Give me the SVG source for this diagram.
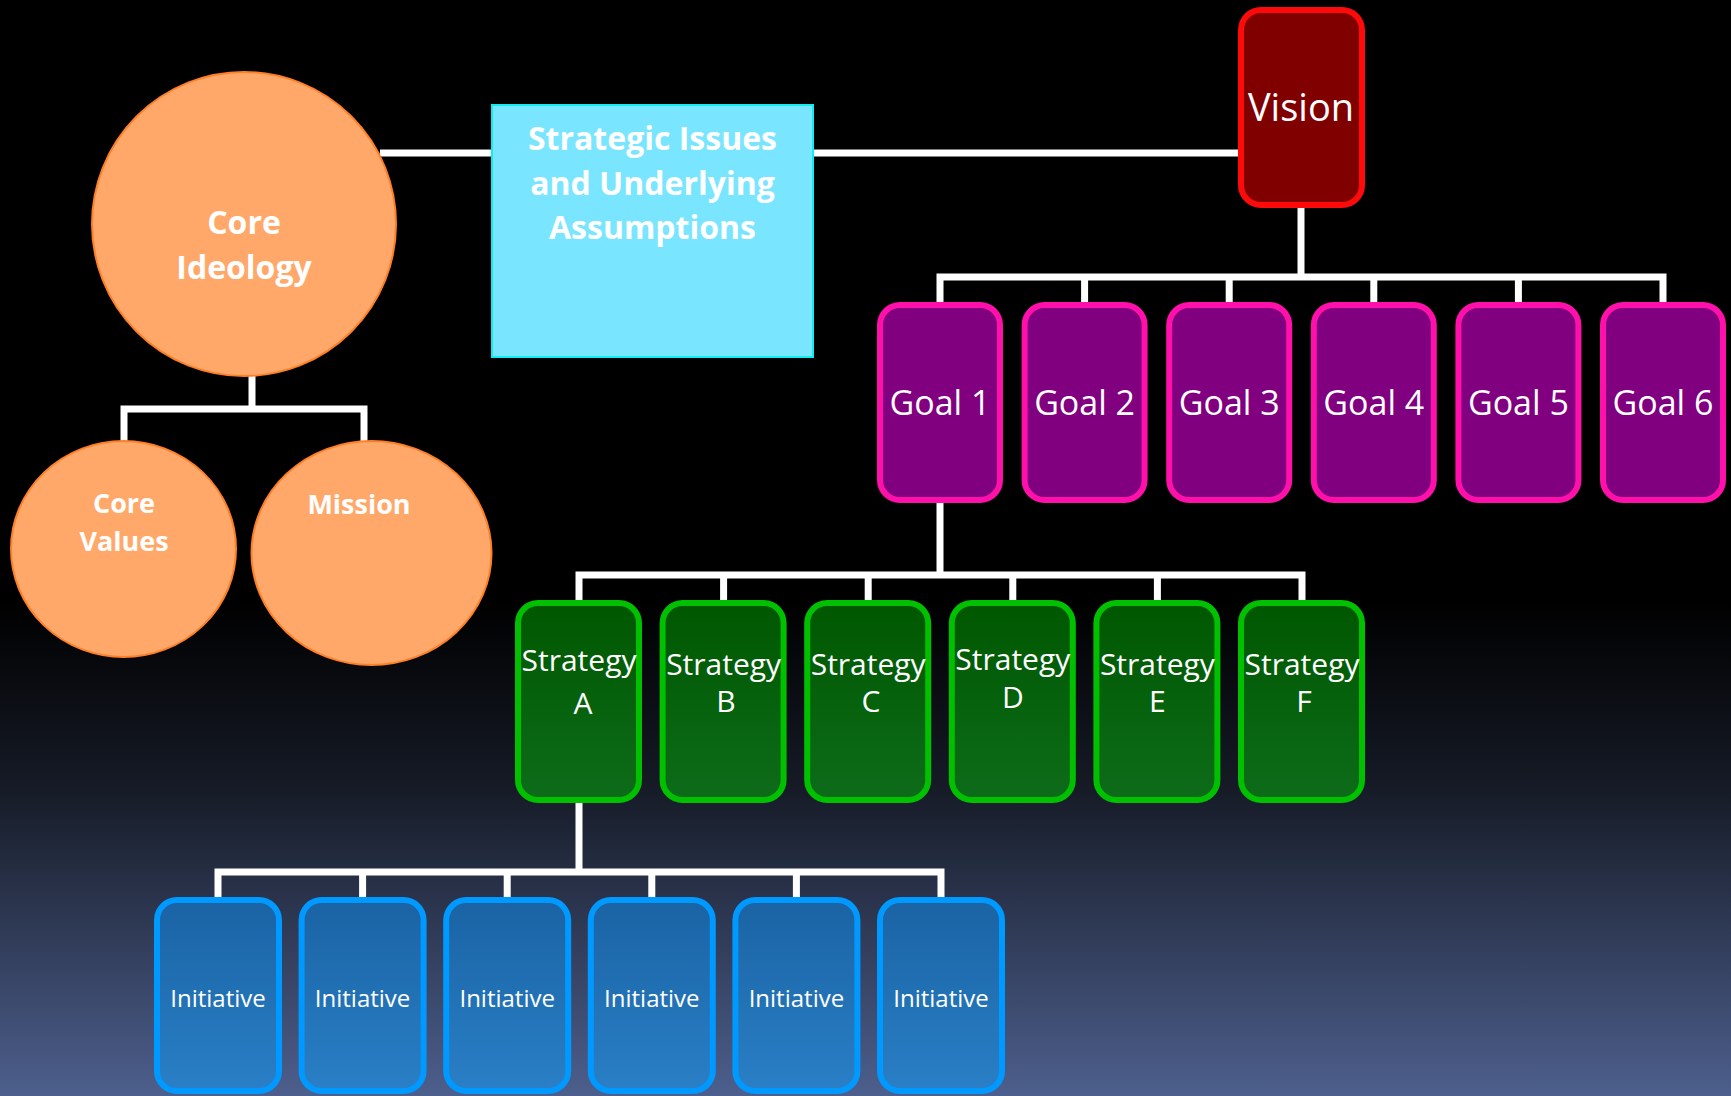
<svg xmlns="http://www.w3.org/2000/svg" width="1731" height="1096" viewBox="0 0 1731 1096">
<defs>
<linearGradient id="bg" x1="0" y1="0" x2="0" y2="1">
<stop offset="0" stop-color="#000"/>
<stop offset="0.55" stop-color="#000"/>
<stop offset="0.72" stop-color="#161b27"/>
<stop offset="1" stop-color="#4d5f8d"/>
</linearGradient>
<linearGradient id="gStrat" x1="0" y1="0" x2="0" y2="1">
<stop offset="0" stop-color="#005700"/>
<stop offset="1" stop-color="#0d6c1a"/>
</linearGradient>
<linearGradient id="gInit" x1="0" y1="0" x2="0" y2="1">
<stop offset="0" stop-color="#1a63a4"/>
<stop offset="1" stop-color="#2a7fc6"/>
</linearGradient>
<style>
.t{font-family:"Open Sans","Liberation Sans",sans-serif;fill:#fff;text-anchor:middle}
.b{font-weight:bold}
.circ{fill:#ffa869;stroke:#ff7f27;stroke-width:2}
.vision{fill:#800000;stroke:#ff0a0a;stroke-width:6}
.goal{fill:#800080;stroke:#ff10aa;stroke-width:6}
.strat{fill:url(#gStrat);stroke:#00c000;stroke-width:6}
.init{fill:url(#gInit);stroke:#0099ff;stroke-width:6}
.conn{fill:none;stroke:#fff;stroke-width:7;stroke-linecap:butt;stroke-linejoin:miter}
</style>
</defs>
<rect x="0" y="0" width="1731" height="1096" fill="url(#bg)"/>

<g id="connectors" class="conn">
<path d="M380 153H491"/>
<path d="M814 153H1238"/>
<path d="M252 376V409"/>
<path d="M124 441V409H364V441"/>
<path d="M1301 208V277"/>
<path d="M940 302V277H1663V302M1084.6 277V302M1229.2 277V302M1373.8 277V302M1518.4 277V302"/>
<path d="M940 503V575"/>
<path d="M579 600V575H1302V600M723.6 575V600M868.2 575V600M1012.8 575V600M1157.4 575V600"/>
<path d="M579 803V872"/>
<path d="M218 897V872H941V897M362.6 872V897M507.2 872V897M651.8 872V897M796.4 872V897"/>
</g>

<g id="core-ideology">
<circle class="circ" cx="244" cy="224" r="152"/>
<text class="t b" x="244" y="234" font-size="32">Core</text>
<text class="t b" x="244" y="279" font-size="32">Ideology</text>
</g>
<g id="core-values">
<ellipse class="circ" cx="123.5" cy="549" rx="112.5" ry="108"/>
<text class="t b" x="124" y="513" font-size="27">Core</text>
<text class="t b" x="124" y="551" font-size="27">Values</text>
</g>
<g id="mission">
<ellipse class="circ" cx="371.5" cy="553" rx="120" ry="112"/>
<text class="t b" x="359" y="514" font-size="27">Mission</text>
</g>
<g id="strategic-issues">
<rect x="492" y="105" width="321" height="252" fill="#79e5ff" stroke="#10ecf0" stroke-width="2"/>
<text class="t b" x="652.5" y="150" font-size="32">Strategic Issues</text>
<text class="t b" x="652.5" y="195" font-size="32">and Underlying</text>
<text class="t b" x="652.5" y="239" font-size="32">Assumptions</text>
</g>
<g id="vision">
<rect class="vision" x="1241" y="10" width="121" height="195" rx="20"/>
<text class="t" x="1301" y="121" font-size="38">Vision</text>
</g>

<g id="goal-1"><rect class="goal" x="880" y="305" width="120" height="195" rx="20"/><text class="t" x="940" y="415" font-size="34">Goal 1</text></g>
<g id="goal-2"><rect class="goal" x="1024.6" y="305" width="120" height="195" rx="20"/><text class="t" x="1084.6" y="415" font-size="34">Goal 2</text></g>
<g id="goal-3"><rect class="goal" x="1169.2" y="305" width="120" height="195" rx="20"/><text class="t" x="1229.2" y="415" font-size="34">Goal 3</text></g>
<g id="goal-4"><rect class="goal" x="1313.8" y="305" width="120" height="195" rx="20"/><text class="t" x="1373.8" y="415" font-size="34">Goal 4</text></g>
<g id="goal-5"><rect class="goal" x="1458.4" y="305" width="120" height="195" rx="20"/><text class="t" x="1518.4" y="415" font-size="34">Goal 5</text></g>
<g id="goal-6"><rect class="goal" x="1603" y="305" width="120" height="195" rx="20"/><text class="t" x="1663" y="415" font-size="34">Goal 6</text></g>

<g id="strategy-a"><rect class="strat" x="518" y="603" width="121" height="197" rx="20"/><text class="t" x="579" y="671" font-size="30">Strategy</text><text class="t" x="583" y="714" font-size="30">A</text></g>
<g id="strategy-b"><rect class="strat" x="662.6" y="603" width="121" height="197" rx="20"/><text class="t" x="723.6" y="675" font-size="30">Strategy</text><text class="t" x="726" y="712" font-size="30">B</text></g>
<g id="strategy-c"><rect class="strat" x="807.2" y="603" width="121" height="197" rx="20"/><text class="t" x="868.2" y="675" font-size="30">Strategy</text><text class="t" x="871" y="712" font-size="30">C</text></g>
<g id="strategy-d"><rect class="strat" x="951.8" y="603" width="121" height="197" rx="20"/><text class="t" x="1012.8" y="670" font-size="30">Strategy</text><text class="t" x="1012.8" y="708" font-size="30">D</text></g>
<g id="strategy-e"><rect class="strat" x="1096.4" y="603" width="121" height="197" rx="20"/><text class="t" x="1157.4" y="675" font-size="30">Strategy</text><text class="t" x="1157.4" y="712" font-size="30">E</text></g>
<g id="strategy-f"><rect class="strat" x="1241" y="603" width="121" height="197" rx="20"/><text class="t" x="1302" y="675" font-size="30">Strategy</text><text class="t" x="1304" y="712" font-size="30">F</text></g>

<g id="initiative-1"><rect class="init" x="157" y="900" width="122" height="191" rx="20"/><text class="t" x="218" y="1007" font-size="24">Initiative</text></g>
<g id="initiative-2"><rect class="init" x="301.6" y="900" width="122" height="191" rx="20"/><text class="t" x="362.6" y="1007" font-size="24">Initiative</text></g>
<g id="initiative-3"><rect class="init" x="446.2" y="900" width="122" height="191" rx="20"/><text class="t" x="507.2" y="1007" font-size="24">Initiative</text></g>
<g id="initiative-4"><rect class="init" x="590.8" y="900" width="122" height="191" rx="20"/><text class="t" x="651.8" y="1007" font-size="24">Initiative</text></g>
<g id="initiative-5"><rect class="init" x="735.4" y="900" width="122" height="191" rx="20"/><text class="t" x="796.4" y="1007" font-size="24">Initiative</text></g>
<g id="initiative-6"><rect class="init" x="880" y="900" width="122" height="191" rx="20"/><text class="t" x="941" y="1007" font-size="24">Initiative</text></g>
</svg>
